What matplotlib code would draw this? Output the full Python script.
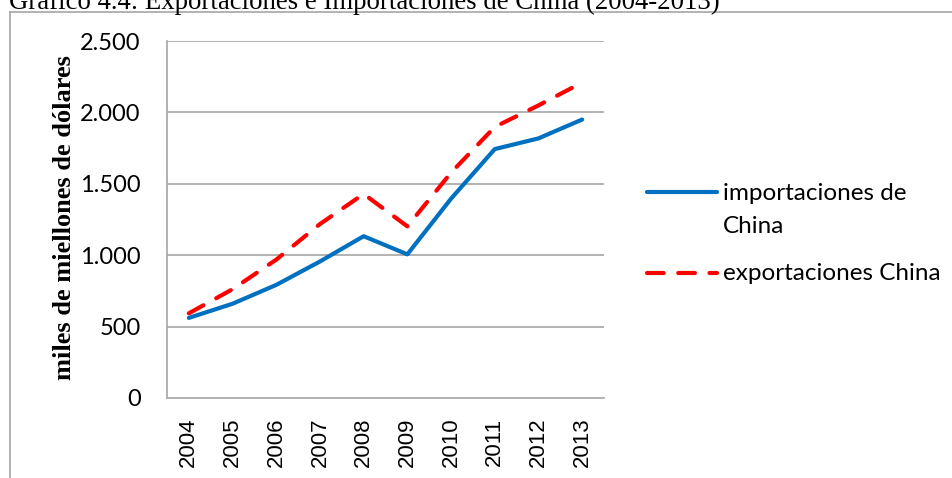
import matplotlib.pyplot as plt
from matplotlib.lines import Line2D

years = ['2004', '2005', '2006', '2007', '2008', '2009', '2010', '2011', '2012', '2013']
importaciones = [561, 660, 792, 956, 1133, 1006, 1396, 1743, 1818, 1950]
exportaciones = [593, 762, 969, 1218, 1429, 1202, 1578, 1898, 2049, 2209]
yticks = [0, 500, 1000, 1500, 2000, 2500]
ytick_labels = ['0', '500', '1.000', '1.500', '2.000', '2.500']

blue = '#0070C0'
red = '#FF0000'
grid_gray = '#A6A6A6'

fig = plt.figure(figsize=(9.52, 4.78), dpi=100)
W, H = 952, 478

ax = fig.add_axes([167 / W, 1 - 398 / H, 437 / W, 357 / H])
x = list(range(len(years)))
ax.plot(x, importaciones, color=blue, lw=3, solid_capstyle='round', solid_joinstyle='round')
ax.plot(x, exportaciones, color=red, lw=3, dashes=(4, 3.5), dash_capstyle='round')

ax.set_xlim(-0.5, len(years) - 0.5)
ax.set_ylim(0, 2500)
ax.set_yticks(yticks)
ax.set_yticklabels(ytick_labels, fontfamily='Lato', fontsize=17)
ax.set_xticks(x)
ax.set_xticklabels(years, rotation=90, fontfamily='Liberation Sans', fontsize=16)
ax.tick_params(axis='y', length=0, pad=19)
ax.tick_params(axis='x', length=0, pad=14)
for yv in yticks[1:]:
    ax.axhline(yv, color=grid_gray, lw=1.2, zorder=0)
for s in ['top', 'right']:
    ax.spines[s].set_visible(False)
for s in ['left', 'bottom']:
    ax.spines[s].set_color(grid_gray)
    ax.spines[s].set_linewidth(1.2)

fig.text(65 / W, 1 - 218 / H, 'miles de miellones de dólares', rotation=90,
         ha='center', va='center', fontfamily='Liberation Serif', fontweight='bold', fontsize=19)

fig.text(9 / W, 1 - 9 / H, 'Gráfico 4.4: Exportaciones e Importaciones de China (2004-2013)',
         ha='left', va='baseline', fontfamily='Liberation Serif', fontsize=19.3)

# outer frame
fig.add_artist(Line2D([10 / W, 10 / W], [0, 1 - 12 / H], color=grid_gray, lw=1.2))
fig.add_artist(Line2D([10 / W, 1], [1 - 12 / H, 1 - 12 / H], color=grid_gray, lw=1.2))

# legend
fig.add_artist(Line2D([647 / W, 717 / W], [1 - 192 / H] * 2, color=blue, lw=3, solid_capstyle='round'))
fig.add_artist(Line2D([647 / W, 717 / W], [1 - 273 / H] * 2, color=red, lw=3,
                      dashes=(4, 3.5), dash_capstyle='round'))
fig.text(723 / W, 1 - 193 / H, 'importaciones de', ha='left', va='center', fontfamily='Lato', fontsize=17.5)
fig.text(723 / W, 1 - 226 / H, 'China', ha='left', va='center', fontfamily='Lato', fontsize=17.5)
fig.text(723 / W, 1 - 274 / H, 'exportaciones China', ha='left', va='center', fontfamily='Lato', fontsize=17.5)

fig.savefig('out.png', dpi=100)
